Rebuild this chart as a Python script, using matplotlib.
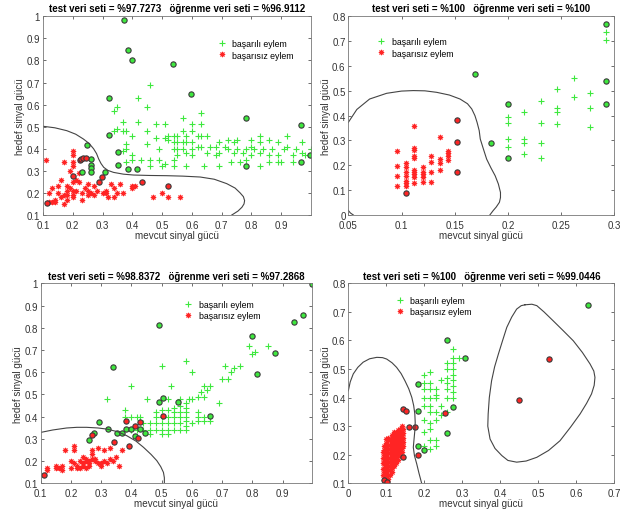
import matplotlib
matplotlib.use("Agg")
import matplotlib.pyplot as plt
import numpy as np

plt.rcParams['font.family'] = ['Liberation Sans', 'DejaVu Sans']

# ---------------- Panel 1 data ----------------
p1_title = "test veri seti = %97.7273   öğrenme veri seti = %96.9112"
p1_green = [(0.34,0.57),(0.35,0.59),(0.37,0.52),(0.42,0.63),(0.42,0.52),(0.45,0.59),(0.46,0.69),(0.63,0.56),(0.57,0.54),
 (0.34,0.48),(0.35,0.49),(0.37,0.48),(0.38,0.48),(0.40,0.46),
 (0.38,0.42),(0.38,0.40),(0.37,0.39),(0.40,0.37),(0.38,0.34),(0.40,0.35),
 (0.45,0.42),(0.45,0.48),(0.48,0.51),(0.48,0.45),(0.49,0.40),(0.49,0.35),(0.46,0.35),(0.43,0.35),
 (0.51,0.51),(0.51,0.45),(0.52,0.46),(0.52,0.44),(0.54,0.46),(0.54,0.43),(0.54,0.40),(0.55,0.46),(0.55,0.43),(0.55,0.40),(0.55,0.37),(0.54,0.35),(0.51,0.33),
 (0.57,0.48),(0.57,0.43),(0.57,0.40),(0.58,0.46),(0.58,0.43),(0.58,0.38),(0.60,0.51),(0.60,0.48),(0.60,0.43),(0.60,0.40),(0.60,0.37),(0.62,0.46),(0.62,0.41),
 (0.63,0.51),(0.63,0.46),(0.63,0.41),(0.65,0.46),(0.65,0.38),(0.66,0.41),(0.68,0.41),(0.68,0.37),(0.69,0.43),(0.69,0.38),(0.71,0.41),(0.72,0.44),(0.72,0.40),
 (0.74,0.43),(0.74,0.38),(0.75,0.44),(0.75,0.40),(0.77,0.38),(0.78,0.40),(0.78,0.35),(0.80,0.44),(0.80,0.41),(0.80,0.37),(0.81,0.40),(0.83,0.46),(0.83,0.43),
 (0.83,0.38),(0.84,0.40),(0.86,0.37),(0.86,0.44),(0.87,0.40),(0.89,0.43),(0.89,0.37),(0.89,0.34),(0.91,0.40),(0.92,0.46),(0.92,0.41),(0.94,0.37),(0.95,0.40),
 (0.97,0.43),(0.97,0.38),(0.98,0.37),(1.0,0.40),
 (0.46,0.32),(0.50,0.32),(0.54,0.32),(0.58,0.32),(0.64,0.32),(0.69,0.32),(0.73,0.34),(0.76,0.34),(0.83,0.32),(0.86,0.34),(0.90,0.34),(0.94,0.34)]
p1_green_sv = [(0.371,0.985),(0.384,0.848),(0.400,0.801),(0.537,0.786),(0.598,0.647),(0.323,0.632),(0.781,0.540),(0.967,0.509),
 (0.323,0.463),(0.247,0.417),(0.353,0.385),(0.261,0.355),(0.261,0.328),(0.261,0.311),(0.261,0.293),(0.230,0.293),(0.307,0.293),
 (0.353,0.325),(0.384,0.308),(0.415,0.308),(0.781,0.324),(0.967,0.340),(0.997,0.372)]
p1_red = [(0.11,0.35),(0.17,0.34),(0.20,0.39),(0.20,0.37),(0.20,0.34),(0.20,0.32),(0.19,0.30),(0.16,0.26),(0.20,0.25),(0.22,0.25),
 (0.25,0.24),(0.27,0.23),(0.24,0.22),(0.13,0.22),(0.12,0.20),(0.15,0.23),(0.18,0.23),(0.18,0.21),(0.18,0.19),(0.18,0.17),(0.17,0.19),
 (0.14,0.17),(0.14,0.16),(0.13,0.16),(0.21,0.21),(0.23,0.20),(0.23,0.17),(0.25,0.19),(0.25,0.21),(0.26,0.20),(0.27,0.19),(0.28,0.21),
 (0.30,0.20),(0.31,0.20),(0.31,0.21),(0.33,0.24),(0.34,0.22),(0.35,0.20),(0.36,0.24),(0.37,0.20),(0.32,0.18),(0.34,0.18),(0.40,0.23),
 (0.40,0.22),(0.41,0.23),(0.47,0.18),(0.50,0.20),(0.52,0.18),(0.56,0.18),(0.16,0.18),(0.20,0.18),(0.21,0.26),(0.22,0.29),(0.12,0.16),
 (0.15,0.20),(0.19,0.22),(0.17,0.15),(0.20,0.21),(0.20,0.19)]
p1_red_sv = [(0.113,0.153),(0.20,0.278),(0.223,0.348),(0.228,0.353),(0.235,0.357),(0.243,0.36),(0.287,0.248),(0.297,0.272),(0.431,0.25),(0.519,0.233)]
p1_bx = [0.1,0.14,0.18,0.21,0.236,0.255,0.27,0.28,0.287,0.295,0.304,0.318,0.337,0.37,0.404,0.46,0.516,0.57,0.628,0.675,0.717,0.745,0.762,0.773,0.777,0.775,0.768,0.755,0.740,0.734]
p1_by = [0.502,0.495,0.482,0.466,0.444,0.424,0.400,0.378,0.354,0.333,0.316,0.302,0.293,0.285,0.281,0.279,0.278,0.276,0.272,0.262,0.242,0.222,0.200,0.183,0.165,0.150,0.135,0.118,0.105,0.100]

# ---------------- Panel 2 data ----------------
p2_title = "test veri seti = %100   öğrenme veri seti = %100"
p2_green = [(0.292,0.738),(0.292,0.706),(0.262,0.553),(0.246,0.507),(0.262,0.475),(0.277,0.490),(0.231,0.460),(0.246,0.432),(0.246,0.413),
 (0.215,0.413),(0.277,0.430),(0.200,0.393),(0.200,0.369),(0.231,0.369),(0.246,0.368),(0.277,0.353),(0.200,0.306),(0.200,0.275),
 (0.215,0.306),(0.215,0.290),(0.231,0.290),(0.215,0.244),(0.231,0.230)]
p2_green_sv = [(0.169,0.569),(0.184,0.291),(0.200,0.446),(0.200,0.230),(0.292,0.769),(0.292,0.538),(0.292,0.446)]
p2_red = [(0.096,0.256),(0.096,0.199),(0.096,0.158),(0.096,0.118),
 (0.104,0.208),(0.104,0.192),(0.104,0.174),(0.104,0.158),(0.104,0.138),(0.104,0.128),(0.104,0.118),
 (0.112,0.360),(0.112,0.271),(0.112,0.263),(0.112,0.239),(0.112,0.231),(0.112,0.180),(0.112,0.174),(0.112,0.166),(0.112,0.153),(0.112,0.129),
 (0.120,0.192),(0.120,0.174),(0.120,0.165),(0.120,0.152),(0.120,0.134),
 (0.128,0.239),(0.128,0.215),(0.128,0.174),(0.128,0.134),
 (0.136,0.313),(0.136,0.224),(0.136,0.208),(0.136,0.181),
 (0.144,0.258),(0.144,0.248),(0.144,0.239),(0.144,0.223)]
p2_red_sv = [(0.104,0.087),(0.152,0.383),(0.152,0.295),(0.152,0.174)]
p2_bx = [0.05,0.058,0.070,0.086,0.100,0.111,0.122,0.133,0.145,0.155,0.162,0.166,0.169,0.171,0.173,0.174,0.177,0.180,0.184,0.188,0.191,0.193,0.193,0.192,0.189,0.186,0.183]
p2_by = [0.373,0.425,0.467,0.490,0.499,0.501,0.500,0.494,0.483,0.467,0.448,0.427,0.400,0.373,0.340,0.306,0.265,0.225,0.190,0.158,0.125,0.091,0.070,0.051,0.032,0.017,0.0]
p2_b2x = [0.05,0.052,0.0547]
p2_b2y = [0.018,0.008,0.0]

# ---------------- Panel 3 data ----------------
p3_title = "test veri seti = %98.8372   öğrenme veri seti = %97.2868"
p3_green = [(0.32,0.48),(0.38,0.43),(0.38,0.40),(0.40,0.54),(0.43,0.40),(0.45,0.48),(0.50,0.63),(0.53,0.54),(0.58,0.65),(0.60,0.60),
 (0.69,0.46),(0.70,0.57),(0.71,0.63),(0.72,0.57),(0.73,0.60),(0.74,0.62),(0.76,0.63),(0.79,0.72),(0.80,0.68),(0.81,0.69),(0.85,0.72),
 (0.62,0.49),(0.63,0.51),(0.64,0.49),(0.64,0.54),(0.65,0.52),(0.66,0.54),(0.56,0.48),(0.59,0.48),(0.58,0.46),
 (0.44,0.34),(0.44,0.37),(0.46,0.32),(0.46,0.34),(0.46,0.37),(0.48,0.34),(0.48,0.37),(0.48,0.40),(0.48,0.42),
 (0.50,0.32),(0.50,0.34),(0.50,0.37),(0.50,0.40),(0.50,0.43),(0.52,0.32),(0.52,0.34),(0.52,0.37),(0.52,0.40),(0.52,0.43),(0.52,0.48),
 (0.54,0.34),(0.54,0.37),(0.54,0.40),(0.54,0.42),(0.54,0.44),(0.56,0.34),(0.56,0.37),(0.56,0.40),(0.56,0.42),(0.56,0.45),
 (0.58,0.34),(0.58,0.36),(0.58,0.38),(0.58,0.40),(0.58,0.42),(0.58,0.44),(0.60,0.37),(0.60,0.48),
 (0.62,0.38),(0.62,0.40),(0.62,0.42),(0.64,0.38),(0.64,0.40),(0.66,0.38),(0.40,0.40),(0.42,0.40),(0.40,0.34),(0.42,0.34)]
p3_green_sv = [(0.997,0.997),(0.966,0.857),(0.937,0.824),(0.799,0.764),(0.876,0.686),(0.815,0.592),(0.492,0.812),(0.338,0.622),
 (0.660,0.404),(0.553,0.467),(0.492,0.467),(0.506,0.484),(0.292,0.374),(0.322,0.344),(0.278,0.326),(0.261,0.296),(0.354,0.326),
 (0.368,0.326),(0.383,0.344),(0.398,0.344),(0.413,0.311),(0.429,0.344),(0.444,0.326)]
p3_red = [(0.12,0.16),(0.12,0.17),(0.15,0.18),(0.15,0.17),(0.16,0.17),(0.17,0.16),(0.17,0.18),(0.18,0.25),(0.20,0.20),(0.20,0.17),
 (0.21,0.27),(0.21,0.25),(0.21,0.19),(0.22,0.18),(0.22,0.17),(0.23,0.20),(0.23,0.17),(0.24,0.19),(0.24,0.22),(0.24,0.18),(0.25,0.20),
 (0.25,0.21),(0.25,0.17),(0.26,0.20),(0.26,0.19),(0.26,0.18),(0.27,0.21),(0.27,0.25),(0.28,0.20),(0.29,0.26),(0.29,0.19),(0.30,0.18),
 (0.30,0.19),(0.31,0.25),(0.31,0.20),(0.32,0.19),(0.33,0.21),(0.33,0.26),(0.34,0.20),(0.35,0.22),(0.36,0.18),(0.37,0.25),(0.27,0.23),(0.28,0.21)]
p3_red_sv = [(0.111,0.139),(0.270,0.317),(0.344,0.287),(0.383,0.379),(0.413,0.358),(0.429,0.374),(0.391,0.266),(0.422,0.302),(0.503,0.404)]
p3_bx = [0.1,0.14,0.186,0.22,0.252,0.29,0.319,0.355,0.385,0.415,0.440,0.465,0.484,0.497,0.506,0.509,0.509]
p3_by = [0.329,0.340,0.349,0.352,0.352,0.349,0.344,0.332,0.314,0.290,0.262,0.230,0.202,0.175,0.149,0.125,0.100]

# ---------------- Panel 4 data ----------------
p4_title = "test veri seti = %100   öğrenme veri seti = %99.0446"
p4_green_cols_x = [0.200,0.215,0.230,0.245,0.260,0.275,0.290]
p4_green_cols_y = [[0.48,0.45,0.43,0.40,0.37,0.32,0.28,0.23],
                   [0.49,0.45,0.43,0.40,0.37,0.35,0.31,0.29,0.25,0.22],
                   [0.43,0.41,0.40,0.35,0.32,0.25,0.23],
                   [0.46,0.37,0.34],
                   [0.52,0.50,0.47,0.45,0.43,0.40,0.35],
                   [0.57,0.54,0.52,0.50,0.48,0.46,0.44,0.42,0.40],
                   [0.54]]
p4_green_sv = [(0.632,0.724),(0.260,0.602),(0.308,0.540),(0.184,0.448),(0.184,0.354),(0.276,0.368),(0.260,0.277),(0.184,0.231),(0.200,0.217)]
p4_red_cols_x = [0.090,0.095,0.100,0.105,0.110,0.115,0.120,0.125,0.130,0.135,0.140,0.145]
p4_red_cols_y = [[0.13,0.15,0.17,0.19,0.21],
                 [0.11,0.125,0.14,0.155,0.17,0.185,0.20,0.215,0.23],
                 [0.10,0.12,0.135,0.15,0.165,0.18,0.195,0.21,0.225,0.24,0.255],
                 [0.115,0.13,0.145,0.16,0.175,0.19,0.205,0.22,0.235,0.25,0.26],
                 [0.13,0.145,0.16,0.175,0.19,0.205,0.22,0.235,0.25],
                 [0.14,0.155,0.17,0.185,0.20,0.215,0.23,0.245,0.26,0.27],
                 [0.16,0.175,0.19,0.205,0.22,0.235,0.25,0.265,0.28],
                 [0.17,0.185,0.20,0.215,0.23,0.245,0.26,0.275],
                 [0.18,0.195,0.21,0.225,0.24,0.255,0.27,0.285],
                 [0.20,0.215,0.23,0.245,0.26,0.275,0.29],
                 [0.21,0.225,0.24,0.255,0.27,0.285,0.30],
                 [0.23,0.245,0.26,0.275,0.29]]
p4_red_sv = [(0.529,0.536),(0.449,0.393),(0.143,0.361),(0.152,0.352),(0.160,0.296),(0.175,0.296),(0.255,0.345),(0.143,0.192),(0.184,0.200),(0.095,0.112),(0.103,0.104)]
p4_b1x = [0.0,0.005,0.013,0.025,0.039,0.056,0.075,0.090,0.101,0.115,0.127,0.139,0.149,0.159,0.167,0.172,0.175,0.176,0.175,0.173,0.171,0.174,0.180,0.186,0.193]
p4_b1y = [0.424,0.455,0.483,0.506,0.524,0.536,0.541,0.540,0.535,0.522,0.506,0.484,0.459,0.431,0.401,0.372,0.343,0.313,0.284,0.255,0.226,0.197,0.168,0.135,0.100]
p4_b2x = [0.465,0.483,0.496,0.515,0.539,0.565,0.592,0.616,0.636,0.646,0.649,0.647,0.640,0.627,0.610,0.585,0.557,0.527,0.496,0.468,0.443,0.420,0.404,0.386,0.373,0.367,0.368,0.371,0.377,0.385,0.395,0.406,0.417,0.430,0.443,0.455,0.465]
p4_b2y = [0.725,0.727,0.722,0.700,0.669,0.635,0.599,0.558,0.518,0.493,0.471,0.443,0.413,0.380,0.343,0.297,0.249,0.215,0.191,0.178,0.174,0.180,0.197,0.222,0.255,0.300,0.343,0.400,0.459,0.508,0.553,0.600,0.646,0.682,0.710,0.722,0.725]

GREEN = '#3ee83e'
RED = '#ff2424'
EDGE = '#3a3a3a'
FS_TICK = 7.0
FS_LAB = 7.1
FS_TITLE = 7.0
ASTER = (8, 2, 0)

fig = plt.figure(figsize=(6.41, 5.10), dpi=100)

def flat(cols_x, cols_y):
    pts = []
    for x, ys in zip(cols_x, cols_y):
        for y in ys:
            pts.append((x, y))
    return pts

def panel(rect, title, green, green_sv, red, red_sv, bounds, xlim, ylim, xticks, yticks, leg_loc):
    ax = fig.add_axes(rect)
    g = np.array(green); r = np.array(red)
    gs = np.array(green_sv); rs = np.array(red_sv)
    ax.plot(g[:, 0], g[:, 1], '+', color=GREEN, ms=4.2, mew=0.8, label='başarılı eylem')
    ax.plot(r[:, 0], r[:, 1], ls='none', marker=ASTER, color=RED, mec=RED, ms=3.8, mew=0.7, label='başarısız eylem')
    ax.plot(gs[:, 0], gs[:, 1], 'o', mfc=GREEN, mec=EDGE, ms=3.8, mew=0.8)
    ax.plot(rs[:, 0], rs[:, 1], 'o', mfc=RED, mec=EDGE, ms=3.8, mew=0.8)
    for bx, by in bounds:
        ax.plot(bx, by, '-', color='#444444', lw=0.8)
    ax.set_xlim(*xlim); ax.set_ylim(*ylim)
    ax.set_xticks(xticks); ax.set_yticks(yticks)
    ax.set_xticklabels([('%g' % t) for t in xticks])
    ax.set_yticklabels([('%g' % t) for t in yticks])
    ax.tick_params(direction='in', top=True, right=True, length=2.5, width=0.5, labelsize=FS_TICK, colors='#333333', pad=2)
    ax.tick_params(axis='x', pad=3.5)
    for s in ax.spines.values():
        s.set_color('#777777'); s.set_linewidth(0.6)
    ax.set_xlabel('mevcut sinyal gücü', fontsize=FS_LAB, color='#333333', labelpad=0)
    ax.set_ylabel('hedef sinyal gücü', fontsize=FS_LAB, color='#333333', labelpad=1)
    ax.set_title(title, fontsize=FS_TITLE, fontweight='bold', pad=3.5)
    ax.legend(loc=leg_loc, frameon=False, fontsize=6.3, handlelength=1.2, handletextpad=0.6,
              borderaxespad=0.2, labelspacing=0.25)
    return ax

panel([0.067, 0.5765, 0.418, 0.3895], p1_title, p1_green, p1_green_sv, p1_red, p1_red_sv,
      [(p1_bx, p1_by)], (0.1, 0.9995), (0.1, 1.0),
      [0.1,0.2,0.3,0.4,0.5,0.6,0.7,0.8,0.9], [0.1,0.2,0.3,0.4,0.5,0.6,0.7,0.8,0.9,1.0], (0.635, 0.765))
panel([0.5434, 0.5765, 0.415, 0.3895], p2_title, p2_green, p2_green_sv, p2_red, p2_red_sv,
      [(p2_bx, p2_by), (p2_b2x, p2_b2y)], (0.05, 0.3), (0.0, 0.8),
      [0.05,0.1,0.15,0.2,0.25,0.3], [0,0.1,0.2,0.3,0.4,0.5,0.6,0.7,0.8], (0.09, 0.775))
panel([0.0634, 0.0504, 0.4233, 0.392], p3_title, p3_green, p3_green_sv, p3_red, p3_red_sv,
      [(p3_bx, p3_by)], (0.1, 0.997), (0.1, 1.0),
      [0.1,0.2,0.3,0.4,0.5,0.6,0.7,0.8,0.9], [0.1,0.2,0.3,0.4,0.5,0.6,0.7,0.8,0.9,1.0], (0.512, 0.8))
panel([0.5434, 0.0504, 0.415, 0.392], p4_title, flat(p4_green_cols_x, p4_green_cols_y), p4_green_sv,
      flat(p4_red_cols_x, p4_red_cols_y), p4_red_sv,
      [(p4_b1x, p4_b1y), (p4_b2x, p4_b2y)], (0.0, 0.7), (0.1, 0.8),
      [0,0.1,0.2,0.3,0.4,0.5,0.6,0.7], [0.1,0.2,0.3,0.4,0.5,0.6,0.7,0.8], (0.16, 0.82))

fig.savefig('out.png', dpi=100)
